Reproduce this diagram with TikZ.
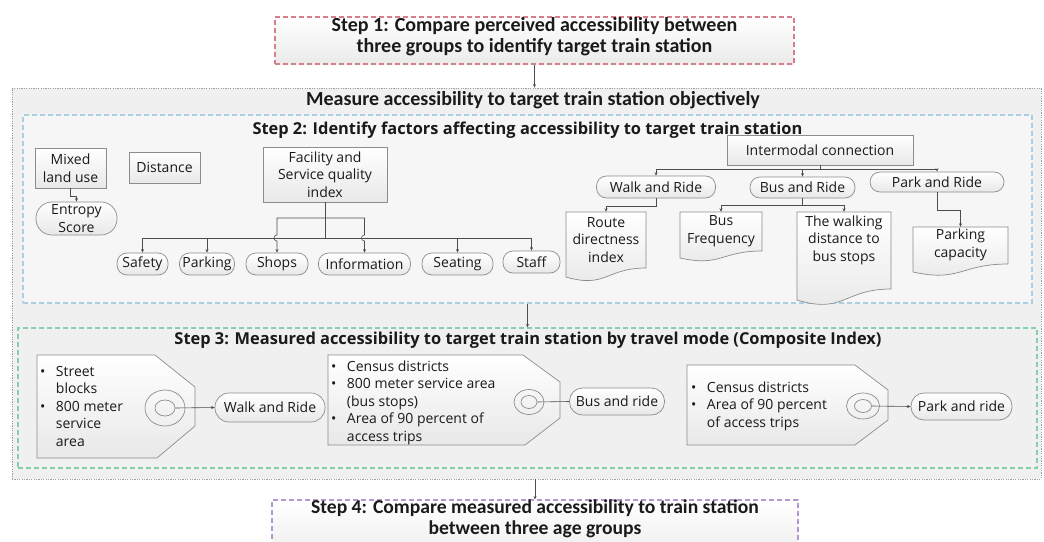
\documentclass[tikz,border=0pt]{standalone}
\usepackage{fontspec}
\setmainfont{Open Sans}
\newfontfamily\calib{Carlito}
\usetikzlibrary{arrows.meta,shapes.geometric,calc}
\definecolor{lgray}{HTML}{8C8C8C}
\definecolor{cgray}{HTML}{4D4D4D}
\definecolor{dred}{HTML}{D47F8A}
\definecolor{dpurp}{HTML}{B596CF}
\definecolor{dblue}{HTML}{A8D0E2}
\definecolor{dgreen}{HTML}{86CFA8}
\definecolor{dout}{HTML}{A0A0A0}
\definecolor{bgout}{HTML}{F0F0F0}
\definecolor{bgin}{HTML}{F6F6F6}
\definecolor{txt}{HTML}{1A1A1A}
\tikzset{
  sz/.style 2 args={minimum width=#1pt, minimum height=#2pt},
  shapefill/.style={top color=white, bottom color=black!9},
  box/.style={draw=lgray, shapefill, line width=0.7pt, inner sep=0pt, align=center, text=txt, font=\fontsize{14}{17.5}\selectfont},
  pill/.style={box, rounded corners=#1pt, font=\fontsize{14}{17.5}\selectfont},
  pill/.default=10,
  lbl/.style={inner sep=0pt, align=center, text=txt, font=\fontsize{14}{17.5}\selectfont},
  arr/.style={draw=cgray, line width=0.6pt, -{Stealth[length=3.5pt,width=3pt]}},
  ln/.style={draw=cgray, line width=0.6pt},
  ring/.style={ellipse, draw=lgray, line width=0.7pt, inner sep=0pt},
  frame/.style={line width=1.1pt, dash pattern=on 5pt off 3pt, inner sep=0pt},
  stepfont/.style={inner sep=0pt, align=center, text=txt, font=\calib\bfseries\fontsize{20}{21.5}\selectfont},
  headfont/.style={inner sep=0pt, text=txt, font=\bfseries\fontsize{16.4}{18}\selectfont},
}
\newcommand{\docshape}[5]{\path[draw=lgray, shapefill, line width=0.7pt] (#1,#3) -- (#2,#3) -- (#2,#4) .. controls ({(#1+#2)/2},#4) and ({(#1+#2)/2},{#4+2.3*(#5-#4)}) .. (#1,#5) -- cycle;}
\begin{document}
\begin{tikzpicture}[x=1pt,y=-1pt]
\useasboundingbox (0,0) rectangle (1044,541);
\clip (0,0) rectangle (1044,541);
\fill[white] (0,0) rectangle (1044,541);
% ---------- frames
\node[draw=dout, fill=bgout, line width=0.8pt, dash pattern=on 1.2pt off 1.2pt, sz={1029}{391}, inner sep=0pt] (outer) at (526.5,283.5) {};
\node[frame, draw=dblue, fill=bgin, sz={1009}{188}] (step2) at (527.5,209) {};
\node[frame, draw=dgreen, fill=bgout, sz={1019}{140}] (step3) at (527.5,398) {};
\node[frame, draw=dred, top color=white, bottom color=red!4!black!8, sz={519}{47}] (step1) at (534.5,40.5) {};
\node[stepfont] (step1t) at (534.5,36.5) {Step 1: Compare perceived accessibility between\\three groups to identify target train station};
\node[frame, draw=dpurp, top color=white, bottom color=black!6, sz={526}{50}] (step4) at (535,525) {};
\node[stepfont, font=\calib\bfseries\fontsize{19.6}{20.5}\selectfont] (step4t) at (535,519) {Step 4: Compare measured accessibility to train station\\between three age groups};
\node[stepfont] (meas) at (533,100) {Measure accessibility to target train station objectively};
\node[headfont] (h2) at (527.5,130) {Step 2: Identify factors affecting accessibility to target train station};
\node[headfont] (h3) at (528,340) {Step 3: Measured accessibility to target train station by travel mode (Composite Index)};
\draw[arr] (step1.south) -- (step1.south |- outer.north);
\draw[arr] (step2.south) -- (step3.north);
\draw[arr] (step4.north |- outer.south) -- (step4.north);
% ---------- step 2 left
\node[box, sz={71}{40}] (mixed) at (70.5,168) {Mixed\\land use};
\node[box, sz={71}{31}] (dist) at (164.5,167.5) {Distance};
\node[box, sz={124}{55}] (fsq) at (325,174.5) {Facility and\\Service quality\\index};
\node[pill=16, sz={81}{33}] (entropy) at (76.5,218.5) {Entropy\\Score};
\draw[arr] (mixed.south) -- ++(0,8) -| (entropy.north);
\node[pill, sz={51}{22}] (safety) at (142.5,264) {Safety};
\node[pill, sz={55}{22}] (parking) at (207,264) {Parking};
\node[pill, sz={62}{22}] (shops) at (277,264) {Shops};
\node[pill, sz={92}{22}] (info) at (364.5,264) {Information};
\node[pill, sz={71}{22}] (seating) at (457.5,264) {Seating};
\node[pill, sz={57}{22}] (staff) at (531.5,262) {Staff};
\coordinate (bar) at (325,238);
\coordinate (ubar) at (325,218);
\draw[ln] (fsq.south) -- (bar);
\draw[arr] (bar) -| (safety.north);
\draw[arr] (bar) -| (parking.north);
\draw[arr] (bar) -| (seating.north);
\draw[arr] (bar) -| (staff.north);
\draw[arr] (ubar) -- (ubar -| shops.north) -- ($(bar -| shops.north)+(0,-3)$) .. controls +(-4,0) and +(-4,0) .. ($(bar -| shops.north)+(0,3)$) -- (shops.north);
\draw[arr] (ubar) -- (ubar -| info.north) -- ($(bar -| info.north)+(0,-3)$) .. controls +(-4,0) and +(-4,0) .. ($(bar -| info.north)+(0,3)$) -- (info.north);
% ---------- step 2 right
\node[box, sz={186}{30}] (inter) at (820,150) {Intermodal connection};
\node[pill, sz={119}{22}] (walk) at (656,187) {Walk and Ride};
\node[pill, sz={105}{21}] (bus) at (802.5,187.5) {Bus and Ride};
\node[pill, sz={134}{20}] (park) at (937,182) {Park and Ride};
\coordinate (ib) at (820,169);
\draw[ln] (inter.south) -- (ib);
\draw[arr] (ib) -| (walk.north);
\draw[arr] (ib) -| (bus.north);
\draw[arr] (ib) -| (park.north);
\docshape{566}{646}{212}{268}{277}
\node[lbl, sz={80}{56}] (route) at (606,240) {Route\\directness\\index};
\docshape{680}{762}{212}{251}{258}
\node[lbl, sz={82}{38}] (bfreq) at (721,231) {Bus\\Frequency};
\docshape{797}{891}{212}{289}{300}
\node[lbl, sz={94}{56}] (walkd) at (844,240) {The walking\\distance to\\bus stops};
\docshape{913}{1008}{227}{264}{272}
\node[lbl, sz={95}{36}] (pcap) at (960.5,245) {Parking\\capacity};
\draw[arr] (walk.south) -- ++(0,8) -| (route.north);
\draw[arr] (bus.south) -- ++(0,7) -| (bfreq.north);
\draw[arr] (bus.south) -- ++(0,7) -| (walkd.north);
\draw[arr] (park.south) -- ++(0,18) -| (pcap.north);
% ---------- step 3 tags
\path[draw=lgray, shapefill, line width=0.7pt] (37,355) -- (155,355) -- (195,387) -- (195,426) -- (157,458) -- (37,458) -- cycle;
\node[lbl, anchor=north west, align=left] (t1) at (40,364) {\begin{tabular}{@{}l@{\hspace{10.5pt}}l@{}}\textbullet&Street\\&blocks\\\textbullet&800 meter\\&service\\&area\end{tabular}};
\node[ring, sz={40}{36}] (r1) at (165,408) {};
\node[ring, sz={20}{16}] (r1i) at (165,408) {};
\node[pill=14, sz={110}{29}] (walk3) at (270,407.5) {Walk and Ride};
\draw[arr] (r1i.east) -- (walk3.west);
\path[draw=lgray, shapefill, line width=0.7pt] (328,355) -- (523,355) -- (560,382) -- (560,418) -- (525,445) -- (328,445) -- cycle;
\node[lbl, anchor=north west, align=left] (t2) at (331,359) {\begin{tabular}{@{}l@{\hspace{10.5pt}}l@{}}\textbullet&Census districts\\\textbullet&800 meter service area\\&(bus stops)\\\textbullet&Area of 90 percent of\\&access trips\end{tabular}};
\node[ring, sz={30}{25}] (r2) at (529,402) {};
\node[ring, sz={16}{13}] (r2i) at (529,402) {};
\node[pill=13, sz={95}{27}] (bus3) at (617,401.5) {Bus and ride};
\draw[ln] (r2i.east) -- (bus3.west);
\path[draw=lgray, shapefill, line width=0.7pt] (687,365) -- (855,365) -- (888,390) -- (888,420) -- (855,445) -- (687,445) -- cycle;
\node[lbl, anchor=north west, align=left] (t3) at (691,380) {\begin{tabular}{@{}l@{\hspace{10.5pt}}l@{}}\textbullet&Census districts\\\textbullet&Area of 90 percent\\&of access trips\end{tabular}};
\node[ring, sz={33}{26}] (r3) at (863,406) {};
\node[ring, sz={17}{13}] (r3i) at (863,406) {};
\node[pill=13, sz={101}{27}] (park3) at (961.5,406.5) {Park and ride};
\draw[arr] (r3i.east) -- (park3.west);
\end{tikzpicture}
\end{document}
